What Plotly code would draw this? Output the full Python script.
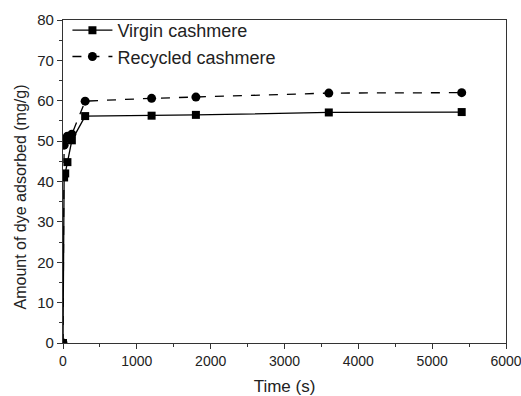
import plotly.graph_objects as go

time_s = [0, 15, 30, 60, 120, 300, 1200, 1800, 3600, 5400]
virgin = [0, 41.0, 42.0, 44.8, 50.2, 56.2, 56.3, 56.5, 57.1, 57.2]
recycled = [0, 49.0, 50.5, 51.2, 51.7, 59.9, 60.6, 60.9, 61.9, 62.0]

x_ticks = [0, 1000, 2000, 3000, 4000, 5000, 6000]
y_ticks = [0, 10, 20, 30, 40, 50, 60, 70, 80]

fig = go.Figure()
fig.add_trace(go.Scatter(
    x=time_s, y=virgin, name="Virgin cashmere", mode="lines+markers",
    line=dict(color="black", width=1.3),
    marker=dict(symbol="square", size=8, color="black"),
))
fig.add_trace(go.Scatter(
    x=time_s, y=recycled, name="Recycled cashmere", mode="lines+markers",
    line=dict(color="black", width=1.3, dash="dash"),
    marker=dict(symbol="circle", size=9, color="black"),
))

font = "Liberation Sans, Arial, sans-serif"
fig.update_layout(
    width=521, height=396,
    margin=dict(l=63, r=15, t=20, b=53),
    paper_bgcolor="white", plot_bgcolor="white",
    font=dict(family=font, size=14, color="#222"),
    showlegend=True,
    legend=dict(x=0.01, y=1.025, xanchor="left", yanchor="top",
                bgcolor="rgba(0,0,0,0)", font=dict(size=18, color="#222"),
                itemwidth=40, tracegroupgap=0),
    xaxis=dict(range=[0, 6000], tickvals=x_ticks, ticks="outside", ticklen=5,
               tickcolor="#333", showline=True, linecolor="#333", linewidth=1.3,
               mirror=True, showgrid=False, zeroline=False,
               ticklabeloverflow="allow", automargin=False,
               minor=dict(ticks="outside", ticklen=3, dtick=500, tickcolor="#333"),
               title=dict(text="Time (s)", font=dict(size=17)),
               tickfont=dict(size=14)),
    yaxis=dict(range=[0, 80], tickvals=y_ticks, ticks="outside", ticklen=5,
               tickcolor="#333", showline=True, linecolor="#333", linewidth=1.3,
               mirror=True, showgrid=False, zeroline=False, automargin=False,
               minor=dict(ticks="outside", ticklen=3, dtick=5, tickcolor="#333"),
               tickfont=dict(size=15)),
    annotations=[dict(text="Amount of dye adsorbed (mg/g)", xref="paper", yref="paper",
                      x=0, y=0.5, xanchor="center", yanchor="middle",
                      xshift=-43, yshift=-16, textangle=-90, showarrow=False,
                      font=dict(size=16, color="#222"))],
)
fig.write_html("out.html")
